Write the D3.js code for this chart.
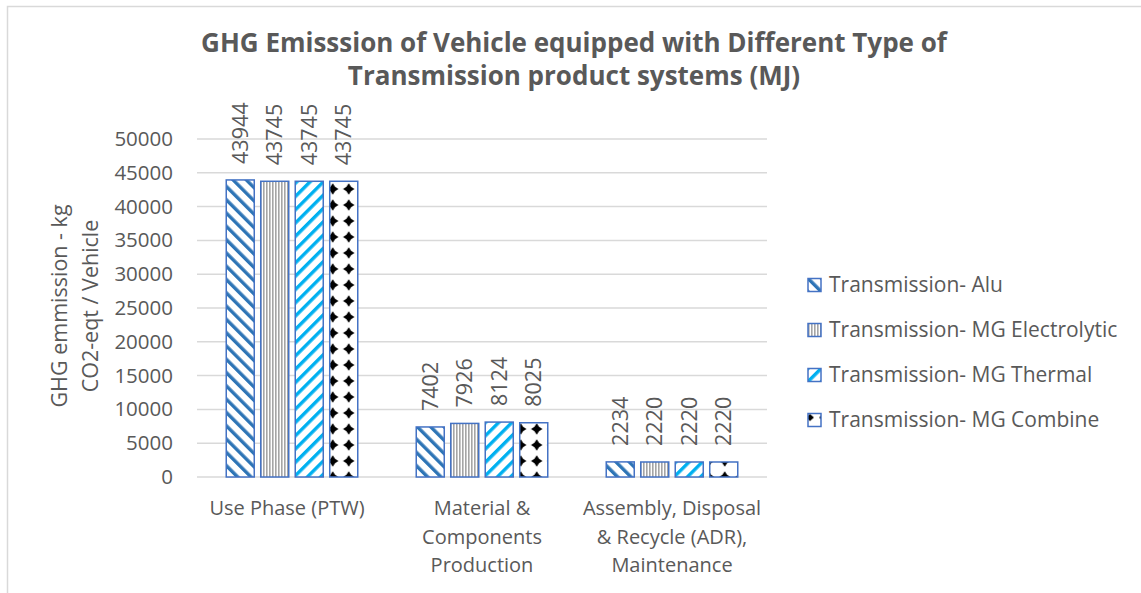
<!DOCTYPE html>
<html>
<head>
<meta charset="utf-8">
<script src="https://cdn.jsdelivr.net/npm/d3@7"></script>
<style>
  html, body { margin: 0; padding: 0; background: #fff; }
  svg { display: block; font-family: "Open Sans", "DejaVu Sans", sans-serif; }
</style>
</head>
<body>
<svg id="chart" width="1141" height="593"></svg>
<script>
// Life-cycle stages (x categories), drawn on up to three lines each
const categories = ["Use Phase (PTW)", "Material & Components Production", "Assembly, Disposal & Recycle (ADR), Maintenance"];
const categoryLines = [
  ["Use Phase (PTW)"],
  ["Material &", "Components", "Production"],
  ["Assembly, Disposal", "& Recycle (ADR),", "Maintenance"]
];
const seriesNames = ["Transmission- Alu", "Transmission- MG Electrolytic", "Transmission- MG Thermal", "Transmission- MG Combine"];
// GHG values per series, in category order
const alu          = [43944, 7402, 2234];
const electrolytic = [43745, 7926, 2220];
const thermal      = [43745, 8124, 2220];
const combine      = [43745, 8025, 2220];
const yTicks = [0, 5000, 10000, 15000, 20000, 25000, 30000, 35000, 40000, 45000, 50000];

const seriesValues = [alu, electrolytic, thermal, combine];
const textColor = "#595959";
const gridColor = "#d9d9d9";
const outline = "#4472C4";

const svg = d3.select("#chart");
const W = 1141, H = 593;

// Outer chart frame
svg.append("path")
  .attr("d", `M7.5,${H} V6.5 H${W}`)
  .attr("fill", "none").attr("stroke", gridColor).attr("stroke-width", 1.5);

const plot = { left: 197, right: 767, top: 139, bottom: 477 };

const x0 = d3.scaleBand().domain(categories).range([plot.left, plot.right]);
const x1 = d3.scaleBand().domain(seriesNames)
  .range([x0.bandwidth() / 2 - 69, x0.bandwidth() / 2 + 69])
  .paddingInner(0.188).paddingOuter(0.094);
const y = d3.scaleLinear().domain([0, 50000]).range([plot.bottom, plot.top]);

// ---- fill patterns ----
const defs = svg.append("defs");

function stripePattern(id, color, angle, ox, oy) {
  const p = defs.append("pattern").attr("id", id)
    .attr("patternUnits", "userSpaceOnUse")
    .attr("x", ox || 0).attr("y", oy || 0)
    .attr("width", 9.4).attr("height", 9.4)
    .attr("patternTransform", `rotate(${angle})`);
  p.append("rect").attr("width", 9.4).attr("height", 9.4).attr("fill", "#fff");
  p.append("rect").attr("x", 0).attr("width", 3.4).attr("height", 9.4).attr("fill", color);
}
stripePattern("pat-alu", "#2E75B6", -45);
stripePattern("pat-thermal", "#00B0F0", 45);

const pv = defs.append("pattern").attr("id", "pat-electrolytic")
  .attr("patternUnits", "userSpaceOnUse").attr("width", 3).attr("height", 3);
pv.append("rect").attr("width", 3).attr("height", 3).attr("fill", "#fff");
pv.append("rect").attr("x", 0).attr("width", 1.6).attr("height", 3).attr("fill", "#A5A5A5");

// diamond lattice, one diamond centred on each bar's middle, rows aligned to the baseline
function diamondPattern(id, cx) {
  const s = 16;
  const p = defs.append("pattern").attr("id", id)
    .attr("patternUnits", "userSpaceOnUse")
    .attr("x", cx - s / 2).attr("y", plot.bottom - s / 2)
    .attr("width", s).attr("height", s);
  p.append("rect").attr("width", s).attr("height", s).attr("fill", "#fff");
  p.append("path")
    .attr("d", "M8,2.3 L10.3,5.7 L13.7,8 L10.3,10.3 L8,13.7 L5.7,10.3 L2.3,8 L5.7,5.7 Z")
    .attr("fill", "#000");
}

const patternIds = ["pat-alu", "pat-electrolytic", "pat-thermal", null];

// ---- gridlines ----
svg.append("g").selectAll("line").data(yTicks).join("line")
  .attr("x1", plot.left).attr("x2", plot.right)
  .attr("y1", d => y(d)).attr("y2", d => y(d))
  .attr("stroke", gridColor).attr("stroke-width", 1.5);

// ---- y axis labels ----
const yAxis = d3.axisLeft(y).tickValues(yTicks).tickSize(0).tickPadding(0).tickFormat(d3.format("d"));
const yg = svg.append("g").attr("transform", `translate(173,0)`).call(yAxis);
yg.select(".domain").remove();
yg.selectAll("text").attr("fill", textColor).attr("font-size", 20.5)
  .attr("font-family", "Open Sans, sans-serif");

// ---- y axis title ----
const yt = svg.append("text")
  .attr("transform", "translate(75,306) rotate(-90)")
  .attr("text-anchor", "middle").attr("fill", textColor).attr("font-size", 21.5);
yt.append("tspan").attr("x", 0).attr("dy", "-0.35em").text("GHG emmission - kg");
yt.append("tspan").attr("x", 0).attr("dy", "1.4em").text("CO2-eqt / Vehicle");

// ---- bars ----
const rows = categories.map((c, ci) => seriesNames.map((s, si) => ({ cat: c, ci, series: s, si, value: seriesValues[si][ci] })));

const groups = svg.append("g").selectAll("g").data(rows).join("g")
  .attr("transform", d => `translate(${x0(d[0].cat)},0)`);

groups.selectAll("rect").data(d => d).join("rect")
  .attr("x", d => x1(d.series))
  .attr("y", d => y(d.value))
  .attr("width", x1.bandwidth())
  .attr("height", d => y(0) - y(d.value))
  .attr("fill", d => {
    if (patternIds[d.si]) return `url(#${patternIds[d.si]})`;
    const id = `pat-combine-${d.ci}`;
    diamondPattern(id, x0(d.cat) + x1(d.series) + x1.bandwidth() / 2);
    return `url(#${id})`;
  })
  .attr("stroke", outline).attr("stroke-width", 1.5);

// ---- value labels ----
groups.selectAll("text.val").data(d => d).join("text")
  .attr("class", "val")
  .attr("transform", d => `translate(${x1(d.series) + x1.bandwidth() / 2},${y(d.value) - 16}) rotate(-90)`)
  .attr("dy", "0.35em")
  .attr("text-anchor", "start").attr("fill", textColor).attr("font-size", 21.5)
  .text(d => d.value);

// ---- category labels ----
svg.append("g").selectAll("text").data(categories).join("text")
  .attr("x", d => x0(d) + x0.bandwidth() / 2)
  .attr("y", 515)
  .attr("text-anchor", "middle").attr("fill", textColor).attr("font-size", 20)
  .each(function (d, i) {
    d3.select(this).selectAll("tspan").data(categoryLines[i]).join("tspan")
      .attr("x", x0(d) + x0.bandwidth() / 2 - (i === 0 ? 5 : 0))
      .attr("dy", (t, j) => j === 0 ? 0 : 28.5)
      .text(t => t);
  });

// ---- title (two separate lines) ----
const titleLines = ["GHG Emisssion of Vehicle equipped with Different Type of", "Transmission product systems (MJ)"];
svg.append("g").selectAll("text").data(titleLines).join("text")
  .attr("x", 574).attr("y", (d, i) => 52 + i * 33)
  .attr("text-anchor", "middle")
  .attr("fill", textColor).attr("font-size", 26).attr("font-weight", "bold")
  .text(d => d);

// ---- legend ----
// swatch patterns, offset so the small squares read like the bar fills
stripePattern("leg-alu", "#2E75B6", -45, 3, 0);
stripePattern("leg-thermal", "#00B0F0", 45, 3, 0);
const pl = defs.append("pattern").attr("id", "leg-combine")
  .attr("patternUnits", "userSpaceOnUse").attr("x", 808).attr("y", 420 - 6.5)
  .attr("width", 13).attr("height", 13);
pl.append("rect").attr("width", 13).attr("height", 13).attr("fill", "#fff");
pl.append("path").attr("d", "M0,0 H4 L0,3.5 Z M13,0 H9 L13,3.5 Z M0,13 H4 L0,9.5 Z M13,13 H9 L13,9.5 Z").attr("fill", "#000");
const legendFills = ["url(#leg-alu)", "url(#pat-electrolytic)", "url(#leg-thermal)", "url(#leg-combine)"];

const legend = svg.append("g").selectAll("g").data(seriesNames).join("g")
  .attr("transform", (d, i) => `translate(808,${285 + i * 45})`);
legend.append("rect")
  .attr("x", 0).attr("y", -6.5).attr("width", 13).attr("height", 13)
  .attr("fill", (d, i) => legendFills[i])
  .attr("stroke", outline).attr("stroke-width", 1.5);
legend.append("text")
  .attr("x", 21).attr("dy", "0.35em")
  .attr("fill", textColor).attr("font-size", 21)
  .text(d => d);
</script>
</body>
</html>
